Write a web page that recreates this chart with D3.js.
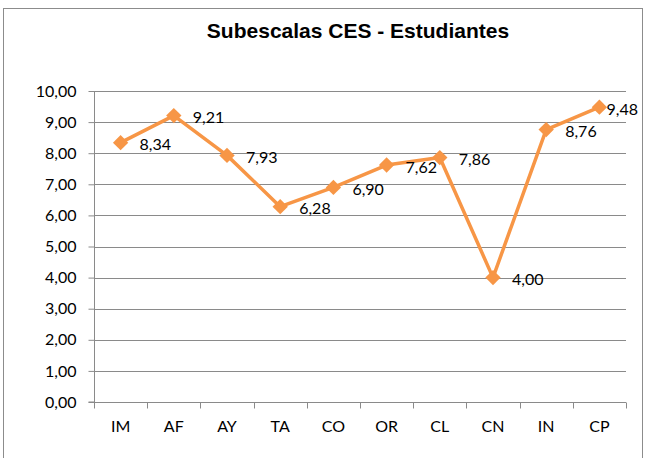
<!DOCTYPE html>
<html><head><meta charset="utf-8">
<script src="https://cdn.jsdelivr.net/npm/d3@7"></script>
<style>body{margin:0;background:#fff}svg{display:block}</style>
</head><body>
<script>
const categories = ["IM","AF","AY","TA","CO","OR","CL","CN","IN","CP"];
const values = [8.34,9.21,7.93,6.28,6.90,7.62,7.86,4.00,8.76,9.48];
const yTicks = [0,1,2,3,4,5,6,7,8,9,10];
const title = "Subescalas CES - Estudiantes";

const W = 647, H = 458;
const m = {left:94, right:626, top:91, bottom:402};
const fmt = v => d3.format(".2f")(v).replace(".", ",");
const svg = d3.select("body").append("svg").attr("width", W).attr("height", H);
svg.append("rect").attr("x",3.5).attr("y",8.5).attr("width",639).attr("height",460)
  .attr("fill","#fff").attr("stroke","#8c8c8c").attr("stroke-width",1);

svg.append("text").attr("x",358).attr("y",38).attr("text-anchor","middle")
  .attr("font-family","Liberation Sans, Arial, sans-serif").attr("font-weight","bold")
  .attr("font-size",21).attr("fill","#000").text(title);

const x = d3.scaleBand().domain(categories).range([m.left, m.right]);
const y = d3.scaleLinear().domain([0,10]).range([m.bottom, m.top]);

// gridlines
svg.append("g").selectAll("line").data(yTicks.filter(d=>d>0)).join("line")
  .attr("x1", m.left).attr("x2", m.right)
  .attr("y1", d=>Math.round(y(d))+0.5).attr("y2", d=>Math.round(y(d))+0.5)
  .attr("stroke","#8a8a8a").attr("stroke-width",1);

const font = "Lato, 'Open Sans', sans-serif";
const yAxis = svg.append("g").attr("transform",`translate(${m.left+0.5},0)`)
  .call(d3.axisLeft(y).tickValues(yTicks).tickFormat(fmt).tickSize(6).tickPadding(12));
yAxis.selectAll("text").attr("font-family",font).attr("font-size",16).attr("fill","#000");
yAxis.selectAll("line,path").attr("stroke","#8a8a8a");
yAxis.select("path").attr("d", `M-6,${m.bottom}H0V${m.top}`);

const xAxis = svg.append("g").attr("transform",`translate(0,${Math.round(m.bottom)+0.5})`)
  .call(d3.axisBottom(x).tickSize(0).tickPadding(18));
xAxis.select("path").attr("stroke","#8a8a8a").attr("d",`M${m.left},0H${m.right}`);
xAxis.selectAll("text").attr("font-family",font).attr("font-size",16).attr("fill","#000");
// category boundary ticks
const bounds = categories.map(c => x(c)).concat([m.right]);
xAxis.append("g").selectAll("line").data(bounds).join("line")
  .attr("x1", d=>Math.round(d)+0.5).attr("x2", d=>Math.round(d)+0.5)
  .attr("y1",0).attr("y2",6).attr("stroke","#8a8a8a");

const cx = c => x(c) + x.bandwidth()/2;
const line = d3.line().x((d,i)=>cx(categories[i])).y(d=>y(d));
svg.append("path").datum(values).attr("d", line).attr("fill","none")
  .attr("stroke","#F79646").attr("stroke-width",3.5).attr("stroke-linejoin","round");

const sym = d3.symbol().type(d3.symbolDiamond2).size(150);
svg.append("g").selectAll("path").data(values).join("path")
  .attr("transform",(d,i)=>`translate(${cx(categories[i])},${y(d)})`)
  .attr("d", sym).attr("fill","#F79646");

const lbl = svg.append("g").selectAll("text").data(values).join("text")
  .attr("font-family",font).attr("font-size",16).attr("fill","#000")
  .attr("dominant-baseline","central")
  .attr("y", d=>y(d)+1).text(fmt);
lbl.each(function(d,i){
  const w = this.getComputedTextLength();
  const px = cx(categories[i]) + 19;
  d3.select(this).attr("x", Math.min(px, 638 - w));
});
</script>
</body></html>
